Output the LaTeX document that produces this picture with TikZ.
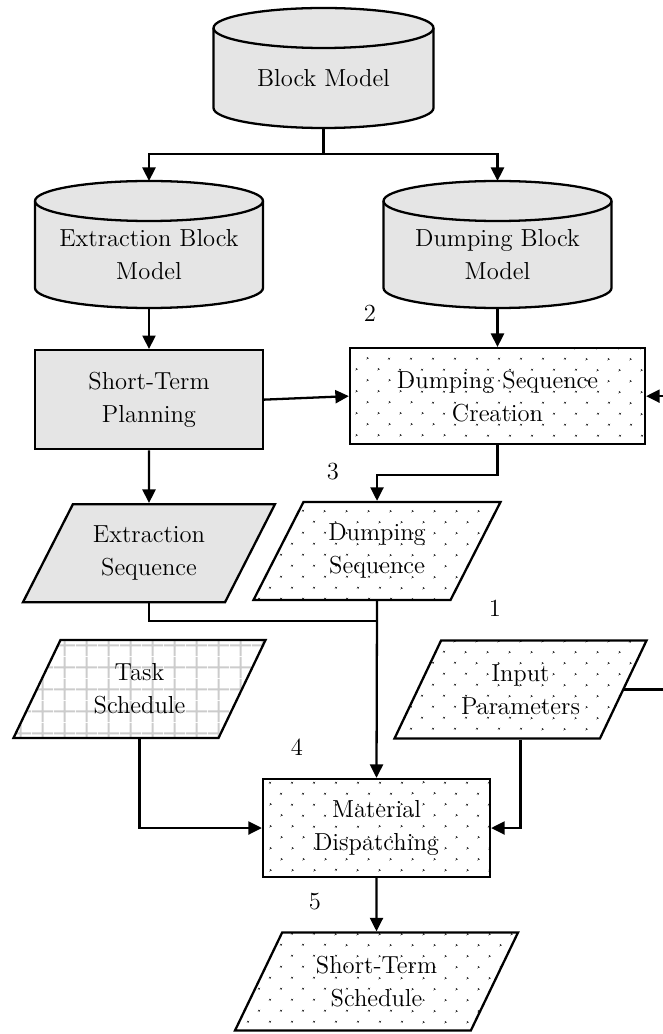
\documentclass[tikz,border=0pt]{standalone}
\usepackage{tikz}
\usetikzlibrary{arrows.meta,shapes.geometric,patterns.meta,positioning,backgrounds}

% cylinder drawn round a named node: node = body below the top ellipse centre
\newcommand{\storeshape}[2]{%
  \draw[store shape] (#1.north west) -- ([yshift=4mm]#1.south west)
    arc[start angle=180,end angle=360,x radius=#2,y radius=4mm]
    -- (#1.north east)
    arc[start angle=0,end angle=180,x radius=#2,y radius=4mm] -- cycle;
  \draw[store shape,fill=none] (#1.north west)
    arc[start angle=180,end angle=360,x radius=#2,y radius=4mm];}

\begin{document}
\begin{tikzpicture}[>={Triangle[length=2.7mm,width=2.6mm]},line width=1.3pt,
  node distance=3.07cm,font=\fontsize{14}{18.8}\selectfont,
  store node/.style={rectangle,minimum width=4.56cm,minimum height=2.14cm,
    outer sep=0pt,align=center},
  store shape/.style={draw,fill=gray!20,line width=1.3pt},
  proc node/.style={rectangle,draw,minimum width=4.56cm,
    minimum height=1.98cm,align=center},
  io node/.style={trapezium,trapezium left angle=53,
    trapezium right angle=127,trapezium stretches body,draw,
    minimum width=5.04cm,minimum height=1.96cm,align=center},
  dot fill/.style={pattern={Dots[distance=3.07mm,radius=0.7pt,angle=45]},
    pattern color=black!80},
  grid fill/.style={pattern={Hatch[distance=4.3mm,line width=1.2pt]},
    pattern color=gray!40},
  num label/.style={inner sep=1pt}]

  \useasboundingbox (0,0) rectangle (13.24,-20.68);

  \node[store node,minimum width=4.4cm,minimum height=2cm] (BM) at (6.47,-1.56) {Block Model};
  \node[store node] (EBM) at (2.98,-5.09) {Extraction Block\\Model};
  \node[store node] (DBM) at (9.95,-5.09) {Dumping Block\\Model};

  \node[proc node,fill=gray!20] (STP) [below=0.82cm of EBM] {Short-Term\\Planning};
  \node[proc node,dot fill,minimum width=5.9cm,minimum height=1.92cm] (DSC) [below=0.78cm of DBM] {Dumping Sequence\\Creation};

  \node[io node,fill=gray!20] (ES) [below of=STP] {Extraction\\Sequence};
  \node[io node,dot fill,minimum width=4.94cm] (DS) at (7.54,-11.02) {Dumping\\Sequence};
  \node[io node,grid fill] (TS) at (2.79,-13.78) {Task\\Schedule};
  \node[io node,dot fill] (IP) at (10.41,-13.79) {Input\\Parameters};

  \node[proc node,dot fill,minimum width=4.54cm,minimum height=1.96cm] (MD) at (7.53,-16.56) {Material\\Dispatching};
  \node[io node,dot fill,minimum width=5.66cm] (STS) [below of=MD] {Short-Term\\Schedule};

  % step numbers
  \node[num label] (n1) at (9.9,-12.16) {1};
  \node[num label] (n2) at (7.4,-6.26) {2};
  \node[num label] (n3) at (6.66,-9.44) {3};
  \node[num label] (n4) at (5.94,-14.94) {4};
  \node[num label] (n5) at (6.3,-18.04) {5};

  \begin{scope}[on background layer]
    \storeshape{BM}{2.2cm}
    \storeshape{EBM}{2.28cm}
    \storeshape{DBM}{2.28cm}
  \end{scope}

  \draw (BM.south) -- ++(0,-0.52) coordinate (split);
  \draw[->] (split) -| ([yshift=4mm]EBM.north);
  \draw[->] (split) -| ([yshift=4mm]DBM.north);
  \draw[->] (EBM.south) -- (STP.north);
  \draw[->] (DBM.south) -- (DSC.north);
  \draw[->] (STP.east) -- (DSC.west);
  \draw[->] (STP.south) -- (ES.north);
  \draw[->] (DSC.south) -- ++(0,-0.6) -| (DS.north);
  \draw (ES.south) |- ([yshift=-0.4cm]DS.south);
  \draw[->] (DS.south) -- (MD.north);
  \draw[->] (TS.south) |- (MD.west);
  \draw[->] (IP.south) |- (MD.east);
  \draw[->] (IP.right side) -- ++(1.5,0) |- (DSC.east);
  \draw[->] (MD.south) -- (STS.north);
\end{tikzpicture}
\end{document}
